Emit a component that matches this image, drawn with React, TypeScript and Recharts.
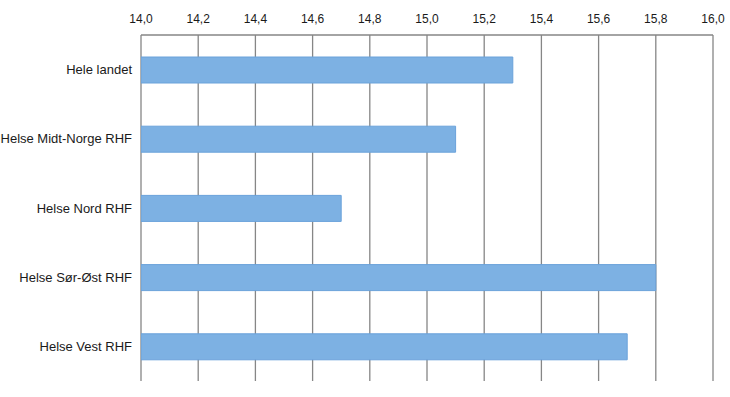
import React from 'react';
import { Bar, BarChart, CartesianGrid, XAxis, YAxis } from 'recharts';

// Data
const regions = [
  'Hele landet',
  'Helse Midt-Norge RHF',
  'Helse Nord RHF',
  'Helse Sør-Øst RHF',
  'Helse Vest RHF',
];
const values = [15.3, 15.1, 14.7, 15.8, 15.7];
const xTicks = [14.0, 14.2, 14.4, 14.6, 14.8, 15.0, 15.2, 15.4, 15.6, 15.8, 16.0];

const data = regions.map((name, i) => ({ name, value: values[i] }));

const fmt = (v: number) => v.toFixed(1).replace('.', ',');

// single-line category label, no wrapping
const RegionTick = (props: any) => {
  const { x, y, payload } = props;
  return (
    <text
      x={x - 7}
      y={y}
      textAnchor="end"
      dominantBaseline="central"
      fontSize={13}
      fill="#1a1a1a"
    >
      {payload.value}
    </text>
  );
};

export default function App() {
  return (
    <div
      style={{
        position: 'absolute',
        left: 0,
        top: 0,
        width: 730,
        height: 397,
        background: '#fff',
        fontFamily: '"Liberation Sans", Arial, sans-serif',
      }}
    >
      <BarChart
        width={730}
        height={397}
        data={data}
        layout="vertical"
        margin={{ top: 0, right: 17, bottom: 16, left: 0 }}
        barCategoryGap={0}
      >
        <CartesianGrid horizontal={false} stroke="#868686" strokeWidth={1.3} />
        <XAxis
          type="number"
          orientation="top"
          domain={[14, 16]}
          ticks={xTicks}
          interval={0}
          allowDataOverflow
          height={35}
          tickFormatter={fmt}
          tickLine={false}
          axisLine={{ stroke: '#868686', strokeWidth: 1.3 }}
          tickSize={6}
          tickMargin={6}
          tick={{ fontSize: 12, fill: '#1a1a1a' }}
        />
        <YAxis
          type="category"
          dataKey="name"
          width={141}
          axisLine={false}
          tickLine={false}
          tickSize={0}
          tick={<RegionTick />}
        />
        <Bar
          dataKey="value"
          fill="#7DB1E3"
          stroke="#6AA2DA"
          strokeWidth={1}
          barSize={26}
          isAnimationActive={false}
        />
      </BarChart>
    </div>
  );
}
